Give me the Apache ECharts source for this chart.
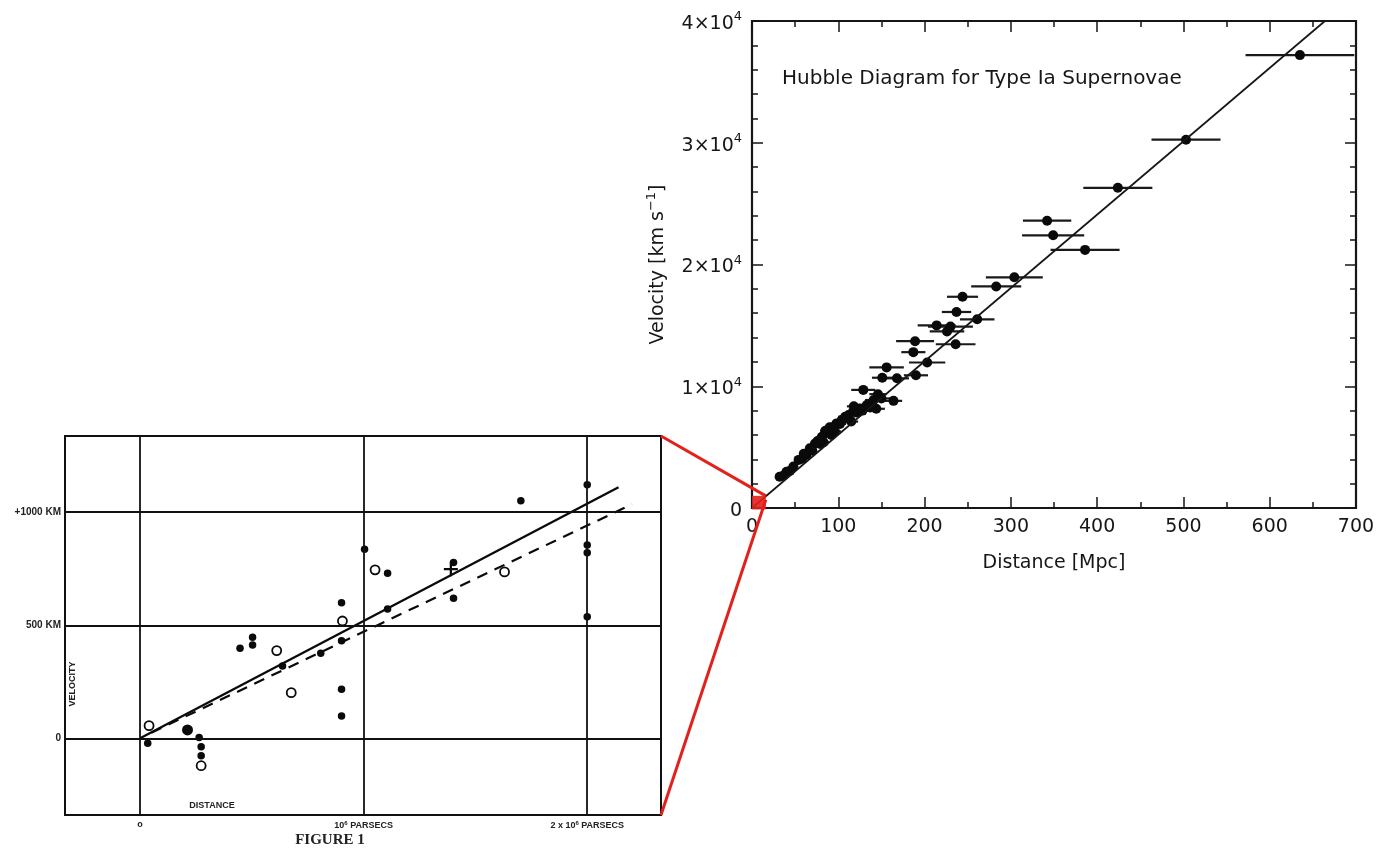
<!DOCTYPE html>
<html><head><meta charset="utf-8">
<script src="https://cdn.jsdelivr.net/npm/echarts@6/dist/echarts.min.js"></script>
<style>html,body{margin:0;padding:0;background:#fff}#c{width:1393px;height:852px}</style>
</head><body><div id="c"></div>
<script>
// ---- Type Ia supernovae Hubble diagram (right panel) ----
const snDistance = [635,503,424,342,349,386,304,283,244,237,261,214,230,226,189,236,187,203,156,190,151,168,129,146,164,141,133,125,117,112,104,98,90,85,121,111,102,94,87,81,73,67,63,54,48,40,32,36,44,58,70,76,83,92,96,108,115,128,137,144,150,118,79,60];
const snVelocity = [37200,30250,26300,23600,22400,21200,18950,18200,17350,16100,15500,15000,14900,14500,13700,13450,12800,11950,11550,10900,10700,10650,9700,9350,8800,8870,8460,8180,7900,7640,7220,6950,6630,6350,7850,7360,6900,6540,6200,5850,5300,4900,4350,3950,3400,2980,2570,2650,3050,4050,4700,5500,5400,6000,6300,7500,7100,8000,8250,8150,9000,8350,5250,4450];
const snDistErr = [63,40,40,28,36,40,33,29,18,17,20,22,26,20,22,23,14,21,20,14,12,14,14,10,10,10,9,9,8,8,7,7,6,6,8,8,7,6,6,6,5,5,5,4,4,3,3,3,3,4,5,5,6,6,7,8,8,9,10,10,11,8,5,4];
const snFit = [[0,0],[664,40000]];
const snDistTicks = [0,100,200,300,400,500,600,700];
const snVelTicks = [0,10000,20000,30000,40000];
const zoomRegion = [[0,-120],[16,1000]]; // Hubble's range marked on the modern diagram

// ---- Hubble (1929) Figure 1 (left panel) ----
const hubFilledD = [0.034,0.264,0.273,0.273,0.447,0.503,0.503,0.637,0.808,0.901,0.901,0.901,0.901,1.004,1.107,1.107,1.402,1.402,1.703,2.0,2.0,2.0,2.0];
const hubFilledV = [-22,4,-37,-77,398,447,413,320,376,600,432,217,99,836,730,572,619,778,1051,1121,855,821,538];
const hubBigD = [0.212];
const hubBigV = [37];
const hubOpenD = [0.04,0.273,0.611,0.676,0.905,1.051,1.63];
const hubOpenV = [56,-121,388,202,519,745,736];
const hubCrossD = [1.39];
const hubCrossV = [748];
const hubSolid = [[0,0],[2.14,1110]];
const hubDashed = [[0.05,25],[2.2,1035]];
const hubVelLines = [0,500,1000];
const hubVelLabels = ['0','500 KM','+1000 KM'];
const hubDistLines = [0,1,2];
const hubDistLabels = ['o','{a|10}{s|6}{a| PARSECS}','{a|2 x 10}{s|6}{a| PARSECS}'];

const zip = (a,b) => a.map((v,i)=>[v,b[i]]);
const F = 'DejaVu Sans';
const ink = '#161616';
const tick = {inside:true, length:11, lineStyle:{color:ink, width:1.5}};

const chart = echarts.init(document.getElementById('c'));
const option = {
  backgroundColor:'#fff',
  animation:false,
  grid:[
    {left:65, right:732, top:436, bottom:37, show:true, borderColor:'#111', borderWidth:2, backgroundColor:'transparent'},
    {left:752, right:37, top:21, bottom:344, show:true, borderColor:ink, borderWidth:2.2, backgroundColor:'transparent'}
  ],
  title:{text:'Hubble Diagram for Type Ia Supernovae', left:777, top:64,
    textStyle:{fontFamily:F, fontWeight:'normal', fontSize:20, color:ink}},
  xAxis:[
    {gridIndex:0, type:'value', min:-0.336, max:2.33, show:false},
    {gridIndex:1, type:'value', min:0, max:700, interval:100,
      name:'Distance [Mpc]', nameLocation:'middle', nameGap:46,
      nameTextStyle:{fontFamily:F, fontSize:19, color:ink},
      axisLine:{show:false, onZero:false}, splitLine:{show:false},
      axisTick:tick,
      minorTick:{show:true, splitNumber:2, length:6, lineStyle:{color:ink, width:1.5}},
      axisLabel:{fontFamily:F, fontSize:19, color:ink, margin:10}},
    {gridIndex:1, type:'value', min:0, max:700, interval:100, position:'top',
      axisLine:{show:false, onZero:false}, splitLine:{show:false}, axisLabel:{show:false},
      axisTick:tick,
      minorTick:{show:true, splitNumber:2, length:6, lineStyle:{color:ink, width:1.5}}}
  ],
  yAxis:[
    {gridIndex:0, type:'value', min:-339, max:1337, show:false},
    {gridIndex:1, type:'value', min:0, max:40000, interval:10000,
      name:'{n|Velocity [km s}{s|−1}{n|]}', nameLocation:'middle', nameGap:80, nameRotate:90,
      nameTextStyle:{rich:{n:{fontFamily:F, fontSize:19, color:ink}, s:{fontFamily:F, fontSize:13, color:ink, padding:[0,0,14,0]}}},
      axisLine:{show:false, onZero:false}, splitLine:{show:false},
      axisTick:tick,
      minorTick:{show:true, splitNumber:5, length:6, lineStyle:{color:ink, width:1.5}},
      axisLabel:{margin:10, padding:[6,0,0,0], formatter:v => v===0 ? '{n|0}' : '{n|'+(v/10000)+'×10}{s|4}',
        rich:{n:{fontFamily:F, fontSize:19, color:ink}, s:{fontFamily:F, fontSize:13, color:ink, padding:[0,0,14,0]}}}},
    {gridIndex:1, type:'value', min:0, max:40000, interval:10000, position:'right',
      axisLine:{show:false, onZero:false}, splitLine:{show:false}, axisLabel:{show:false},
      axisTick:tick,
      minorTick:{show:true, splitNumber:5, length:6, lineStyle:{color:ink, width:1.5}}}
  ],
  series:[
    // Hubble grid lines + labels
    {type:'line', xAxisIndex:0, yAxisIndex:0, data:[], silent:true,
      markLine:{silent:true, symbol:['none','none'], animation:false,
        lineStyle:{color:'#111', width:1.8, type:'solid'},
        emphasis:{disabled:true},
        data:[
          ...hubVelLines.map((v,i)=>({yAxis:v, label:{show:true, position:'start', distance:4, formatter:hubVelLabels[i],
              fontFamily:'Liberation Sans Narrow, Liberation Sans', fontWeight:'bold', fontSize:10, color:'#222'}})),
          ...hubDistLines.map((v,i)=>({xAxis:v, label:{show:true, position:'start', distance:5, formatter:hubDistLabels[i],
              fontFamily:'Liberation Sans', fontWeight:'bold', fontSize:9, color:'#222',
              rich:{a:{fontFamily:'Liberation Sans', fontWeight:'bold', fontSize:9, color:'#222'},
                    s:{fontFamily:'Liberation Sans', fontWeight:'bold', fontSize:6, color:'#222', padding:[0,0,6,0]}}}}))
        ]}},
    {type:'line', xAxisIndex:0, yAxisIndex:0, data:hubSolid, symbol:'none', silent:true,
      lineStyle:{color:'#0a0a0a', width:2.3}},
    {type:'line', xAxisIndex:0, yAxisIndex:0, data:hubDashed, symbol:'none', silent:true,
      lineStyle:{color:'#0a0a0a', width:2.2, type:[11,8]}},
    {type:'scatter', xAxisIndex:0, yAxisIndex:0, data:zip(hubFilledD,hubFilledV), symbol:'circle', symbolSize:7.5,
      itemStyle:{color:'#0a0a0a', opacity:1}, silent:true},
    {type:'scatter', xAxisIndex:0, yAxisIndex:0, data:zip(hubBigD,hubBigV), symbol:'circle', symbolSize:11,
      itemStyle:{color:'#0a0a0a', opacity:1}, silent:true},
    {type:'scatter', xAxisIndex:0, yAxisIndex:0, data:zip(hubOpenD,hubOpenV), symbol:'circle', symbolSize:9,
      itemStyle:{color:'#fff', borderColor:'#0a0a0a', borderWidth:1.8, opacity:1}, silent:true},
    {type:'scatter', xAxisIndex:0, yAxisIndex:0, data:zip(hubCrossD,hubCrossV),
      symbol:'path://M0,4.2h10v1.6h-10z M4.2,0h1.6v10h-1.6z', symbolSize:14,
      itemStyle:{color:'#0a0a0a', opacity:1}, silent:true},
    // Supernovae: fit line, error bars, points
    {type:'line', xAxisIndex:1, yAxisIndex:1, data:snFit, symbol:'none', silent:true,
      lineStyle:{color:ink, width:1.7}},
    {type:'custom', xAxisIndex:1, yAxisIndex:1, silent:true, clip:true,
      data:snDistance.map((d,i)=>[d, snVelocity[i], snDistErr[i]]),
      renderItem:(params, api) => {
        const d = api.value(0), v = api.value(1), e = api.value(2);
        const p1 = api.coord([d-e, v]), p2 = api.coord([d+e, v]);
        return {type:'line', shape:{x1:p1[0], y1:p1[1], x2:p2[0], y2:p2[1]},
          style:{stroke:'#1a1a1a', lineWidth:2.2}};
      }},
    {type:'scatter', xAxisIndex:1, yAxisIndex:1, data:zip(snDistance,snVelocity), symbol:'circle', symbolSize:10,
      itemStyle:{color:'#0a0a0a', opacity:1}, silent:true}
  ]
};
chart.setOption(option);

const boxTR = chart.convertToPixel({xAxisIndex:0, yAxisIndex:0}, [2.33, 1337]);
const boxBR = chart.convertToPixel({xAxisIndex:0, yAxisIndex:0}, [2.33, -339]);
const zA = chart.convertToPixel({xAxisIndex:1, yAxisIndex:1}, zoomRegion[0]);
const zB = chart.convertToPixel({xAxisIndex:1, yAxisIndex:1}, zoomRegion[1]);
const red = '#e3211c';
chart.setOption({graphic:[
  {type:'rect', z:100, shape:{x:zA[0], y:zB[1], width:zB[0]-zA[0], height:zA[1]-zB[1]}, style:{fill:red, opacity:0.9}},
  {type:'line', z:100, shape:{x1:boxTR[0], y1:boxTR[1], x2:zB[0], y2:zB[1]}, style:{stroke:red, lineWidth:3}},
  {type:'line', z:100, shape:{x1:boxBR[0], y1:boxBR[1], x2:zB[0], y2:zB[1]+4}, style:{stroke:red, lineWidth:3}},
  {type:'text', z:100, x:73, y:684, rotation:Math.PI/2, style:{text:'VELOCITY', fontFamily:'Liberation Sans', fontWeight:'bold', fontSize:9, fill:'#222', align:'center', verticalAlign:'middle'}},
  {type:'text', z:100, x:212, y:806, style:{text:'DISTANCE', fontFamily:'Liberation Sans', fontWeight:'bold', fontSize:9, fill:'#222', align:'center', verticalAlign:'middle'}},
  {type:'text', z:100, x:330, y:840, style:{text:'FIGURE 1', fontFamily:'Liberation Serif', fontWeight:'bold', fontSize:15, fill:'#222', align:'center', verticalAlign:'middle'}}
]});
</script>
</body></html>
